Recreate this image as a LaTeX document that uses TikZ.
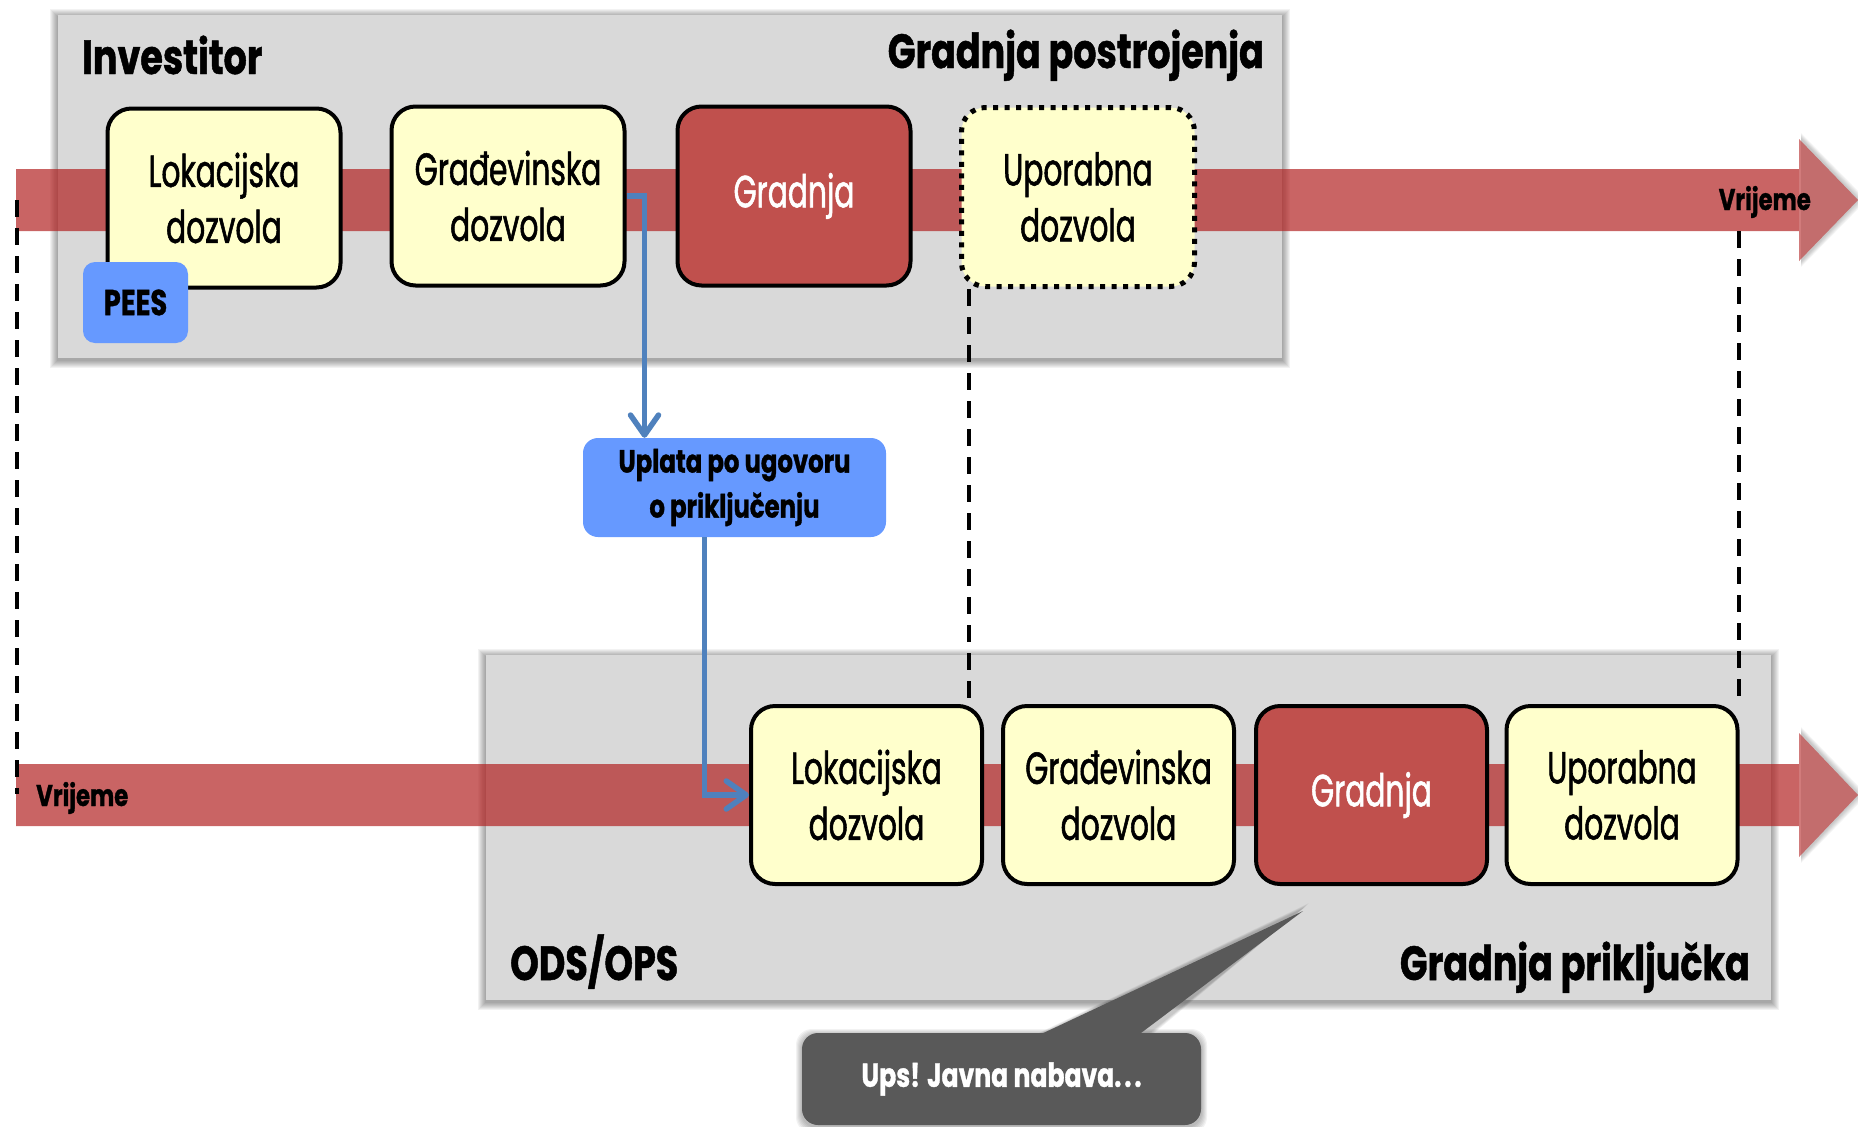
\documentclass[tikz,border=0pt]{standalone}
\usepackage{fontspec}
\setmainfont{Poppins}[FakeStretch=0.66, FakeBold=1.2]
\newfontfamily\headfont{Poppins}[FakeStretch=0.76, FakeBold=1]
\usetikzlibrary{arrows.meta,calc}

\definecolor{panelgray}{HTML}{D9D9D9}
\definecolor{bandred}{HTML}{B22222}
\definecolor{stageyellow}{HTML}{FFFFCC}
\definecolor{stagered}{HTML}{C0504D}
\definecolor{tagblue}{HTML}{6699FF}
\definecolor{linkblue}{HTML}{4F81BD}
\definecolor{notegray}{HTML}{595959}

\newcommand\boxtext{\fontsize{45}{56}\selectfont}
\newcommand\headtext{\headfont\bfseries\fontsize{48}{56}\selectfont}

\begin{document}
\begin{tikzpicture}[x=1pt,y=-1pt,
  stagebox/.style={rectangle, rounded corners=24pt, draw=black, line width=4pt,
    fill=stageyellow, minimum width=233pt, minimum height=179pt, align=center,
    font=\boxtext, inner sep=0pt},
  buildbox/.style={stagebox, fill=stagered, text=white},
  pendingbox/.style={stagebox, line width=5pt, dash pattern=on 5pt off 6.5pt},
  tagbox/.style={rectangle, rounded corners=12pt, fill=tagblue, align=center, inner sep=0pt},
  heading/.style={inner sep=0pt, font=\headtext},
  timelabel/.style={inner sep=0pt, font=\headfont\bfseries\fontsize{30}{36}\selectfont},
  link/.style={draw=linkblue, line width=5.5pt,
    -{Straight Barb[length=20pt,width=28pt,round]}},
  guide/.style={draw=black, line width=3.5pt, dash pattern=on 17pt off 11pt},
  notebox/.style={rectangle, rounded corners=16pt, fill=notegray, text=white,
    minimum width=399pt, minimum height=92pt, inner sep=0pt,
    font=\headfont\bfseries\fontsize{33}{40}\selectfont}
]
\path[use as bounding box] (0,0) rectangle (1858,1127);

% --- panels with soft shadows ---
\foreach \k in {1,...,8}{
  \fill[black, fill opacity=0.05] (58-\k,17-\k) rectangle (1282+\k,360+\k);
  \fill[black, fill opacity=0.05] (486-\k,657-\k) rectangle (1771+\k,1002+\k);
}
\fill[panelgray] (58,15) rectangle (1282,358);
\fill[panelgray] (486,655) rectangle (1771,1000);

% --- time arrows ---
\foreach \k in {1,...,6}{
  \fill[black, fill opacity=0.04] (1801,139-\k) -- (1858+1.5*\k,200) -- (1801,261+\k) -- cycle;
  \fill[black, fill opacity=0.04] (1801,733-\k) -- (1858+1.5*\k,795) -- (1801,857+\k) -- cycle;
}
\fill[bandred, fill opacity=0.7] (16,169) -- (1799,169) -- (1799,139) -- (1858,200)
  -- (1799,261) -- (1799,231) -- (16,231) -- cycle;
\fill[white, fill opacity=0.15] (1799,139) -- (1858,200) -- (1799,261) -- cycle;
\fill[bandred, fill opacity=0.7] (16,764) -- (1799,764) -- (1799,733) -- (1858,795)
  -- (1799,857) -- (1799,826) -- (16,826) -- cycle;
\fill[white, fill opacity=0.15] (1799,733) -- (1858,795) -- (1799,857) -- cycle;

% --- plant construction stages ---
\node[stagebox]   (t1) at (224,198)  {Lokacijska\\dozvola};
\node[stagebox]   (t2) at (508,196)  {Građevinska\\dozvola};
\node[buildbox]   (t3) at (794,196)  {Gradnja};
\node[pendingbox] (t4) at (1078,197) {Uporabna\\dozvola};
\node[tagbox, minimum width=105pt, minimum height=81pt,
      font=\headfont\bfseries\fontsize{36}{40}\selectfont] (pees) at (135.5,302.5) {PEES};

% --- connection construction stages ---
\node[stagebox, minimum width=231pt, minimum height=178pt] (l1) at (866.5,795) {Lokacijska\\dozvola};
\node[stagebox, minimum width=231pt, minimum height=178pt] (l2) at (1118.5,795) {Građevinska\\dozvola};
\node[buildbox, minimum width=231pt, minimum height=178pt] (l3) at (1371.5,795) {Gradnja};
\node[stagebox, minimum width=231pt, minimum height=178pt] (l4) at (1622,795) {Uporabna\\dozvola};

% --- payment step ---
\node[tagbox, rounded corners=15pt, minimum width=303pt, minimum height=99pt,
      font=\headfont\bfseries\fontsize{32}{45}\selectfont] (pay) at (734.5,487.5)
      {Uplata po ugovoru\\o priključenju};

% --- panel titles ---
\node[heading, anchor=base west] (inv) at (82,74) {Investitor};
\node[heading, anchor=base east] (gp) at (1264,68) {Gradnja postrojenja};
\node[heading, anchor=base west] (ods) at (510,980) {ODS/OPS};
\node[heading, anchor=base east] (gpr) at (1750,980) {Gradnja priključka};
\node[timelabel, anchor=base east] (v1) at (1811,210) {Vrijeme};
\node[timelabel, anchor=base west] (v2) at (36,806) {Vrijeme};

% --- alignment guides ---
\coordinate (g1a) at (17,200);
\coordinate (g1b) at (17,794);
\draw[guide] (g1a) -- (g1b);
\draw[guide] ([xshift=10pt]t4.south west) -- ([xshift=10pt]t4.south west |- l1.north);
\coordinate (g3a) at (1739,231);
\draw[guide] (g3a) -- (g3a |- l4.north east);

% --- payment links ---
\draw[link] (t2.east) -- ++(18,0) coordinate (k1) -- (k1 |- pay.north);
\draw[link] ([xshift=-30pt]pay.south) |- (l1.west);

% --- callout ---
\foreach \k in {1,...,6}{
  \fill[black, fill opacity=0.05, rounded corners=16pt] (802-\k,1035-\k) rectangle (1201+\k,1127+\k);
  \fill[black, fill opacity=0.04] (1030-\k,1040) -- (1303+\k,909-\k) -- (1140+\k,1040) -- cycle;
}
\node[notebox] (ups) at (1001.5,1079) {Ups! Javna nabava.\kern3pt.\kern3pt.};
\fill[notegray] (1037,1036) -- (1303,911) -- (1137,1036) -- cycle;
\end{tikzpicture}
\end{document}
